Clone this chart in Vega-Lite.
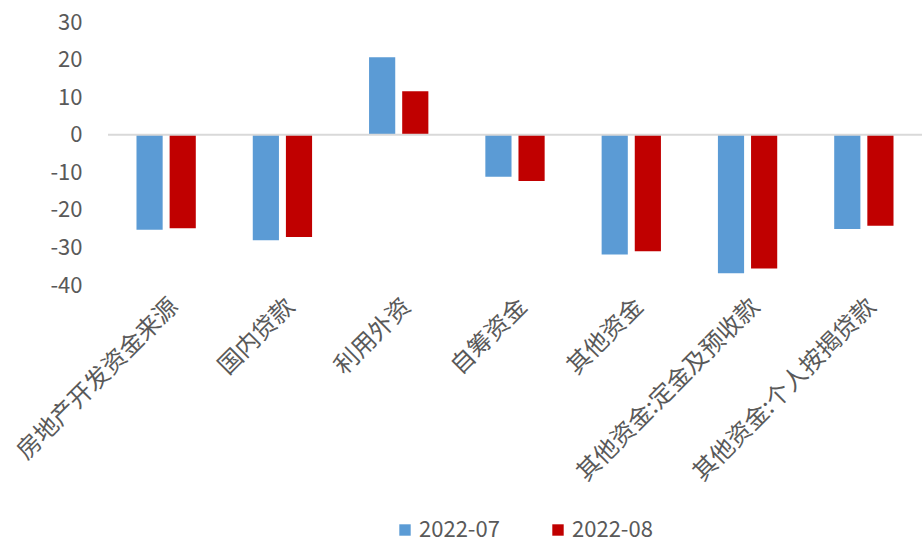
{
  "$schema": "https://vega.github.io/schema/vega-lite/v6.json",
  "width": 814,
  "height": 263,
  "autosize": "none",
  "padding": {"left": 108, "top": 22, "right": 2, "bottom": 259},
  "background": "white",
  "config": {
    "view": {"stroke": null},
    "font": "Noto Sans CJK SC",
    "axis": {"labelColor": "#595959", "labelFontSize": 22, "labelFont": "Noto Sans CJK SC"},
    "axisY": {"labelOverlap": false, "grid": false, "domain": false, "ticks": false, "labelPadding": 26},
    "legend": {"labelColor": "#595959", "labelFontSize": 22, "labelFont": "Noto Sans CJK SC"}
  },
  "data": {
    "values": [
      {"cat": "房地产开发资金来源", "period": "2022-07", "value": -25.3},
      {"cat": "房地产开发资金来源", "period": "2022-08", "value": -24.9},
      {"cat": "国内贷款", "period": "2022-07", "value": -28.1},
      {"cat": "国内贷款", "period": "2022-08", "value": -27.2},
      {"cat": "利用外资", "period": "2022-07", "value": 20.6},
      {"cat": "利用外资", "period": "2022-08", "value": 11.6},
      {"cat": "自筹资金", "period": "2022-07", "value": -11.2},
      {"cat": "自筹资金", "period": "2022-08", "value": -12.3},
      {"cat": "其他资金", "period": "2022-07", "value": -31.9},
      {"cat": "其他资金", "period": "2022-08", "value": -31.0},
      {"cat": "其他资金:定金及预收款", "period": "2022-07", "value": -36.9},
      {"cat": "其他资金:定金及预收款", "period": "2022-08", "value": -35.6},
      {"cat": "其他资金:个人按揭贷款", "period": "2022-07", "value": -25.1},
      {"cat": "其他资金:个人按揭贷款", "period": "2022-08", "value": -24.2}
    ]
  },
  "layer": [
    {
      "mark": {"type": "bar"},
      "encoding": {
        "x": {
          "field": "cat", "type": "nominal", "sort": null,
          "scale": {"paddingInner": 0.49, "paddingOuter": 0.245},
          "axis": {"title": null, "labelAngle": -45, "labelFontSize": 24, "domain": false, "ticks": false, "labelPadding": 9, "labelLimit": 400}
        },
        "xOffset": {"field": "period", "type": "nominal", "scale": {"paddingInner": 0.21, "paddingOuter": 0}},
        "y": {
          "field": "value", "type": "quantitative",
          "scale": {"domain": [-40, 30], "nice": false, "zero": false},
          "axis": {"title": null, "values": [-40, -30, -20, -10, 0, 10, 20, 30], "labelExpr": "'' + datum.value"}
        },
        "color": {
          "field": "period", "type": "nominal",
          "scale": {"domain": ["2022-07", "2022-08"], "range": ["#5B9BD5", "#C00000"]},
          "legend": {"title": null, "orient": "none", "direction": "horizontal", "legendX": 286, "legendY": 497, "symbolType": "square", "symbolSize": 130, "symbolStrokeWidth": 0, "columnPadding": 47, "labelOffset": 3}
        }
      }
    },
    {
      "data": {"values": [{"z": 0}]},
      "mark": {"type": "rule", "color": "#d9d9d9", "strokeWidth": 2},
      "encoding": {"y": {"field": "z", "type": "quantitative", "axis": {"title": null, "values": [-40, -30, -20, -10, 0, 10, 20, 30], "labelExpr": "'' + datum.value"}}}
    }
  ]
}
